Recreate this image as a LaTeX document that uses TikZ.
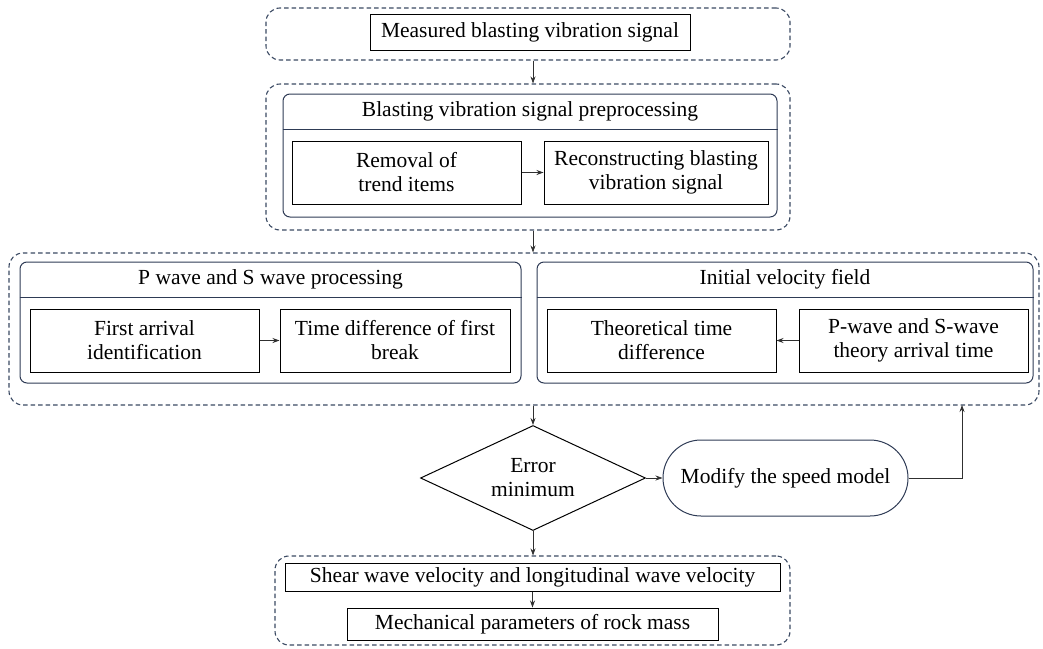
\documentclass[tikz,border=0pt]{standalone}
\usepackage{fontspec}
\setmainfont{Liberation Serif}
\usepackage{tikz}
\usetikzlibrary{shapes.geometric,arrows.meta}
\definecolor{grpgray}{HTML}{3B4A63}
\definecolor{pandark}{HTML}{2E3B55}
\definecolor{arrgray}{HTML}{303030}
\begin{document}
\begin{tikzpicture}[x=1pt,y=-1pt,
  font=\fontsize{21.5}{24}\selectfont,
  grp/.style={draw=grpgray, line width=1.1pt, dash pattern=on 4.5pt off 3pt, rounded corners=14pt, inner sep=0pt},
  panel/.style={draw=pandark, line width=1pt, rounded corners=7pt, inner sep=0pt},
  stepbox/.style={draw, line width=1pt, align=center, inner sep=0pt},
  arr/.style={draw=arrgray, line width=0.7pt, -{Stealth[length=7pt,width=5pt]}}]
\useasboundingbox (0,0) rectangle (1043,648);
% groups
\node[grp, minimum width=524, minimum height=52] (grp1) at (528,34) {};
\node[grp, minimum width=524, minimum height=146] (grp2) at (528,157) {};
\node[grp, minimum width=1030, minimum height=152] (grp3) at (524,329) {};
\node[grp, minimum width=515, minimum height=89] (grp4) at (532.5,600.5) {};
% top
\node[stepbox, minimum width=320, minimum height=36] (meas) at (530,32) {Measured blasting vibration signal};
% preprocessing
\node[panel, minimum width=494, minimum height=123] (pan1) at (530,155.5) {};
\draw[pandark, line width=1pt] ([yshift=-36]pan1.north west) -- ([yshift=-36]pan1.north east);
\node (tit1) at ([yshift=-18]pan1.north) {Blasting vibration signal preprocessing};
\node[stepbox, minimum width=229, minimum height=63] (rem) at (406.5,172.5) {Removal of\\trend items};
\node[stepbox, minimum width=224, minimum height=63] (rec) at (656,172.5) {Reconstructing blasting\\vibration signal};
% P and S wave
\node[panel, minimum width=501, minimum height=121] (pan2) at (270.5,322.5) {};
\draw[pandark, line width=1pt] ([yshift=-36]pan2.north west) -- ([yshift=-36]pan2.north east);
\node (tit2) at ([yshift=-18]pan2.north) {P wave and S wave processing};
\node[stepbox, minimum width=229, minimum height=63] (fa) at (144.5,340.5) {First arrival\\identification};
\node[stepbox, minimum width=230, minimum height=63] (td) at (395,340.5) {Time difference of first\\break};
% initial velocity field
\node[panel, minimum width=496, minimum height=121] (pan3) at (785,322.5) {};
\draw[pandark, line width=1pt] ([yshift=-36]pan3.north west) -- ([yshift=-36]pan3.north east);
\node (tit3) at ([yshift=-18]pan3.north) {Initial velocity field};
\node[stepbox, minimum width=229, minimum height=63] (th) at (661.5,340.5) {Theoretical time\\difference};
\node[stepbox, minimum width=229, minimum height=63] (pw) at (913.5,340.5) {P-wave and S-wave\\theory arrival time};
% decision
\node[draw, line width=1pt, diamond, aspect=2.14, inner sep=0pt, minimum width=225, minimum height=105, align=center] (err) at (533,478) {Error\\minimum};
\node[draw=pandark, line width=1pt, rounded corners=38pt, minimum width=245, minimum height=76] (mod) at (785.5,478) {Modify the speed model};
% results
\node[stepbox, minimum width=495, minimum height=28] (shear) at (532.5,577) {Shear wave velocity and longitudinal wave velocity};
\node[stepbox, minimum width=371, minimum height=32] (mech) at (532.5,624) {Mechanical parameters of rock mass};
\coordinate (fb) at (962,405);
% connectors
\draw[arr] (err.north |- grp1.south) -- (err.north |- grp2.north);
\draw[arr] (err.north |- grp2.south) -- (err.north |- grp3.north);
\draw[arr] (rem) -- (rec);
\draw[arr] (fa) -- (td);
\draw[arr] (pw) -- (th);
\draw[arr] (err.north |- grp3.south) -- (err.north);
\draw[arr] (err) -- (mod);
\draw[arr] (mod.east) -| (fb);
\draw[arr] (err.south) -- (err.south |- grp4.north);
\draw[arr] (shear) -- (mech);
\end{tikzpicture}
\end{document}
